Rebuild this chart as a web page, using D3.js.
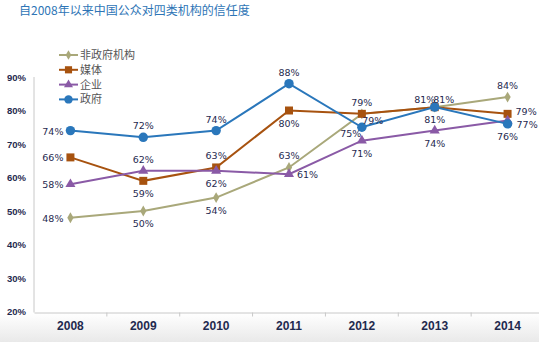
<!DOCTYPE html>
<html>
<head>
<meta charset="utf-8">
<script src="https://cdn.jsdelivr.net/npm/d3@7"></script>
<style>
  body { margin: 0; background: #fff; }
  svg { display: block; }
</style>
</head>
<body>
<div id="chart"></div>
<script>
'use strict';
// trust in four kinds of institutions, 2008-2014 (percent)
var years = ['2008', '2009', '2010', '2011', '2012', '2013', '2014'];
var seriesNames = ['非政府机构', '媒体', '企业', '政府'];
var ngoValues = [48, 50, 54, 63, 79, 81, 84];
var mediaValues = [66, 59, 63, 80, 79, 81, 79];
var businessValues = [58, 62, 62, 61, 71, 74, 77];
var governmentValues = [74, 72, 74, 88, 75, 81, 76];
var yTicks = [20, 30, 40, 50, 60, 70, 80, 90];

// where each value label sits relative to its point
var ngoPlace = ['l', 'b', 'b', 't', 'rb', 'tr', 't'];
var mediaPlace = ['l', 'b', 't', 'b', 't', 'tl', 'ru'];
var businessPlace = ['l', 't', 'b', 'r', 'b', 'b', 'rd'];
var governmentPlace = ['l', 't', 't', 't', 'lb', 'b', 'b'];

var W = 539, H = 342;
var svg = d3.select('#chart').append('svg')
  .attr('width', W)
  .attr('height', H);

var defs = svg.append('defs');
var grad = defs.append('linearGradient')
  .attr('id', 'floor')
  .attr('x1', 0).attr('y1', 0).attr('x2', 0).attr('y2', 1);
grad.append('stop').attr('offset', '0%').attr('stop-color', '#ffffff');
grad.append('stop').attr('offset', '100%').attr('stop-color', '#e9e9e9');
svg.append('rect')
  .attr('x', 0).attr('y', 313)
  .attr('width', W).attr('height', H - 313)
  .attr('fill', 'url(#floor)');

var x = d3.scaleBand()
  .domain(years)
  .range([34, 544]);

var y = d3.scaleLinear()
  .domain([20, 90])
  .range([311.5, 77]);

// title
svg.append('text')
  .attr('x', 19)
  .attr('y', 15)
  .style('font-family', '"Noto Sans CJK SC", sans-serif')
  .style('font-size', '12px')
  .style('fill', '#2E75B6')
  .text('自2008年以来中国公众对四类机构的信任度');

// axes
var yAxis = svg.append('g')
  .attr('transform', 'translate(34,0)')
  .call(d3.axisLeft(y).tickValues(yTicks).tickSize(0).tickFormat(function(d) {
    return d + '%';
  }));
yAxis.select('.domain').attr('stroke', '#c8c8c8').attr('d', 'M0,' + y(90) + 'V' + (y(20) + 1));
yAxis.selectAll('text')
  .attr('x', -8)
  .style('font-family', '"Liberation Sans", Arial, sans-serif')
  .style('font-size', '9.5px')
  .style('font-weight', 'bold')
  .style('fill', '#1f2a4f');

var xAxis = svg.append('g')
  .attr('transform', 'translate(0,' + (y(20) + 1) + ')')
  .call(d3.axisBottom(x).tickSize(0));
xAxis.select('.domain').attr('stroke', '#c8c8c8');
xAxis.selectAll('text')
  .attr('y', 9)
  .style('font-family', '"Liberation Sans", Arial, sans-serif')
  .style('font-size', '12px')
  .style('font-weight', 'bold')
  .style('fill', '#1f2a4f');
// small separators between the years
xAxis.selectAll('.sep')
  .data(years.slice(1))
  .enter().append('line')
  .attr('class', 'sep')
  .attr('x1', function(d) { return x(d); })
  .attr('x2', function(d) { return x(d); })
  .attr('y1', 0).attr('y2', 4)
  .attr('stroke', '#c8c8c8');

var series = [
  {name: seriesNames[0], values: ngoValues, place: ngoPlace, color: '#a9a87a', marker: d3.symbolDiamond, size: 34},
  {name: seriesNames[1], values: mediaValues, place: mediaPlace, color: '#a7520f', marker: d3.symbolSquare, size: 64},
  {name: seriesNames[2], values: businessValues, place: businessPlace, color: '#8a5aa6', marker: d3.symbolTriangle, size: 44},
  {name: seriesNames[3], values: governmentValues, place: governmentPlace, color: '#2a77bb', marker: d3.symbolCircle, size: 70}
];

var line = d3.line()
  .x(function(d, i) { return x(years[i]) + x.bandwidth() / 2; })
  .y(function(d) { return y(d); });

series.forEach(function(s) {
  var g = svg.append('g');
  g.append('path')
    .attr('d', line(s.values))
    .attr('fill', 'none')
    .attr('stroke', s.color)
    .attr('stroke-width', 2);
  g.selectAll('.pt')
    .data(s.values)
    .enter().append('path')
    .attr('class', 'pt')
    .attr('d', d3.symbol().type(s.marker).size(s.size))
    .attr('transform', function(d, i) {
      return 'translate(' + (x(years[i]) + x.bandwidth() / 2) + ',' + y(d) + ')';
    })
    .attr('fill', s.color);
});

// value labels
var offsets = {
  l: [-7, 4, 'end'],
  r: [8, 4, 'start'],
  ru: [8, 1, 'start'],
  rd: [9, 7, 'start'],
  t: [0, -8, 'middle'],
  b: [0, 16, 'middle'],
  tl: [-10, -4, 'middle'],
  tr: [9, -4, 'middle'],
  rb: [11, 10, 'middle'],
  lb: [-11, 10, 'middle']
};
series.forEach(function(s) {
  svg.append('g').selectAll('text')
    .data(s.values)
    .enter().append('text')
    .attr('x', function(d, i) { return x(years[i]) + x.bandwidth() / 2 + offsets[s.place[i]][0]; })
    .attr('y', function(d, i) { return y(d) + offsets[s.place[i]][1]; })
    .attr('text-anchor', function(d, i) { return offsets[s.place[i]][2]; })
    .style('font-family', '"DejaVu Sans", Verdana, sans-serif')
    .style('font-size', '9.5px')
    .style('fill', '#1f2a4f')
    .text(function(d) { return d + '%'; });
});

// legend
var legend = svg.append('g')
  .selectAll('g')
  .data(series)
  .enter().append('g')
  .attr('transform', function(d, i) { return 'translate(59,' + (55 + i * 14.8) + ')'; });
legend.append('line')
  .attr('x1', 0).attr('x2', 19)
  .attr('stroke', function(d) { return d.color; })
  .attr('stroke-width', 2);
legend.append('path')
  .attr('d', function(d) { return d3.symbol().type(d.marker).size(d.size * 0.8)(); })
  .attr('transform', 'translate(9.5,0)')
  .attr('fill', function(d) { return d.color; });
legend.append('text')
  .attr('x', 21)
  .attr('y', 4)
  .style('font-family', '"Noto Sans CJK SC", sans-serif')
  .style('font-size', '11px')
  .style('fill', '#555')
  .text(function(d) { return d.name; });
</script>
</body>
</html>
